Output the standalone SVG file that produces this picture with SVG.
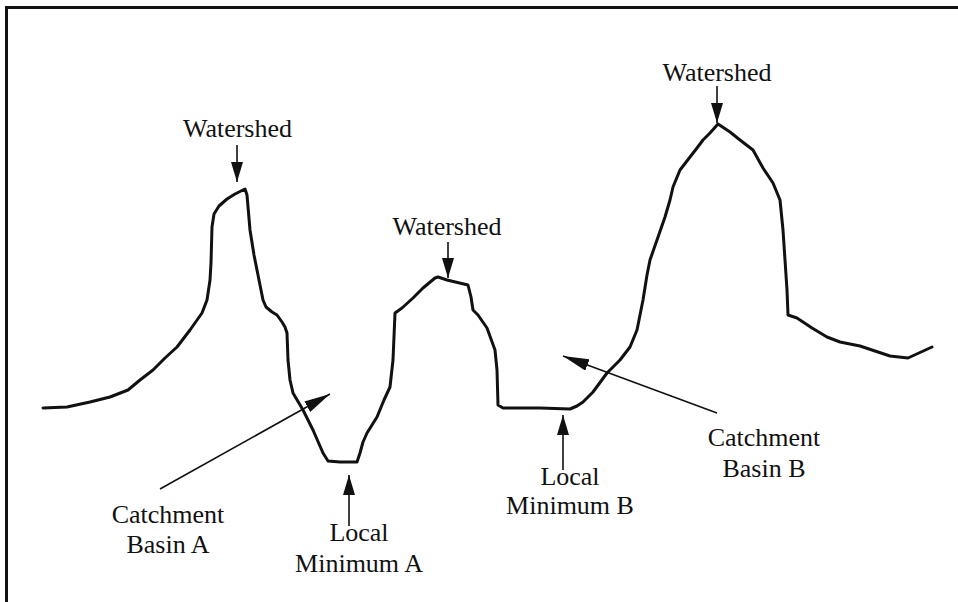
<svg xmlns="http://www.w3.org/2000/svg" width="958" height="602" viewBox="0 0 958 602">
  <style>
    .frame { stroke: #111; stroke-width: 3; fill: none; }
    .profile { stroke: #111; stroke-width: 3; fill: none; stroke-linejoin: round; stroke-linecap: round; }
    .lead { stroke: #111; stroke-width: 1.6; fill: none; }
    .label { font-family: 'Liberation Serif', 'Times New Roman', serif; font-size: 26px; fill: #111; text-anchor: middle; }
  </style>
  <defs>
    <marker id="headLarge" markerUnits="userSpaceOnUse" markerWidth="26" markerHeight="12" refX="26" refY="6" orient="auto">
      <path d="M0,0 L26,6 L0,12 Z" fill="#111"/>
    </marker>
    <marker id="headSmall" markerUnits="userSpaceOnUse" markerWidth="20" markerHeight="12" refX="20" refY="6" orient="auto">
      <path d="M0,0 L20,6 L0,12 Z" fill="#111"/>
    </marker>
  </defs>

  <rect width="958" height="602" fill="#fff"/>

  <!-- border (top and left edges) -->
  <path class="frame" d="M5,7.5 H958 M6.5,6 V602"/>

  <!-- terrain profile -->
  <g id="profile">
    <path class="profile" d="M43,408 L67,407 L90,402 L110,397 L128,390 L140,380 L153,370 L165,358 L177,347 L190,330 L202,313 L207,300 L210,280 L211,263 L212,227 L214,214 L219,206 L227,199 L235,194 L245,189 L247,195 L250,230 L254,255 L257,270 L263,300 L266,307 L272,312 L277,315 L282,322 L285,327 L287,333 L288,360 L290,380 L293,393 L303,410 L313,430 L323,453 L328,461 L340,462 L357,462 L360,453 L363,442 L367,433 L377,417 L384,400 L390,387 L393,360 L395,313 L402,308 L413,298 L423,288 L435,278 L438,277 L447,280 L468,285 L471,297 L473,310 L478,315 L487,328 L495,350 L497,370 L498,405 L503,408 L540,408 L570,409 L577,406 L583,402 L593,392 L607,373 L620,360 L630,347 L637,330 L643,300 L647,275 L650,260 L657,240 L665,217 L670,200 L673,187 L680,170 L690,157 L697,148 L703,140 L710,133 L718,124 L730,132 L740,140 L753,150 L763,168 L773,183 L780,200 L783,230 L785,260 L787,290 L788,315 L797,318 L812,328 L827,337 L840,342 L860,346 L875,351 L890,356 L908,358 L932,347"/>
  </g>

  <!-- pointer lines -->
  <g id="connectors">
    <line class="lead" x1="237" y1="145" x2="237" y2="182" marker-end="url(#headSmall)"/>
    <line class="lead" x1="448" y1="242" x2="448" y2="278" marker-end="url(#headSmall)"/>
    <line class="lead" x1="717" y1="86" x2="717" y2="123" marker-end="url(#headSmall)"/>
    <line class="lead" x1="160" y1="489" x2="330" y2="394" marker-end="url(#headLarge)"/>
    <line class="lead" x1="349" y1="526" x2="349" y2="475" marker-end="url(#headSmall)"/>
    <line class="lead" x1="563" y1="470" x2="563" y2="415" marker-end="url(#headSmall)"/>
    <line class="lead" x1="717" y1="413" x2="563" y2="356" marker-end="url(#headLarge)"/>
  </g>

  <g id="watershed-left"><text class="label" x="237.5" y="137">Watershed</text></g>
  <g id="watershed-middle"><text class="label" x="447" y="235">Watershed</text></g>
  <g id="watershed-right"><text class="label" x="717" y="81">Watershed</text></g>
  <g id="catchment-basin-a">
    <text class="label" x="168" y="523">Catchment</text>
    <text class="label" x="168" y="553">Basin A</text>
  </g>
  <g id="local-minimum-a">
    <text class="label" x="359" y="541">Local</text>
    <text class="label" x="359" y="572">Minimum A</text>
  </g>
  <g id="local-minimum-b">
    <text class="label" x="570" y="485">Local</text>
    <text class="label" x="570" y="514">Minimum B</text>
  </g>
  <g id="catchment-basin-b">
    <text class="label" x="764" y="446">Catchment</text>
    <text class="label" x="764" y="477">Basin B</text>
  </g>
</svg>
